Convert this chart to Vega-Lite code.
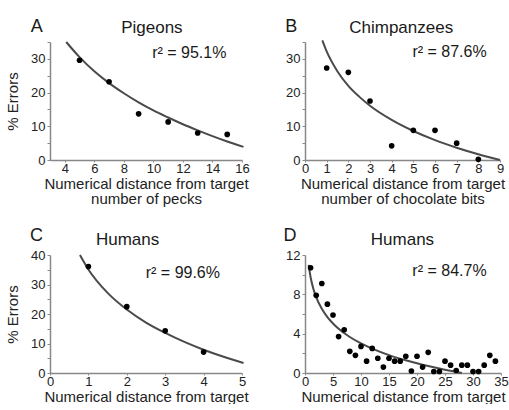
{
  "$schema": "https://vega.github.io/schema/vega-lite/v6.json",
  "padding": {"left": 5, "top": 18, "right": 0, "bottom": 0},
  "background": "white",
  "config": {
    "font": "Liberation Sans",
    "view": {"stroke": null},
    "axis": {
      "grid": false,
      "domainColor": "#888888",
      "domainWidth": 1.5,
      "tickColor": "#888888",
      "tickSize": 3,
      "tickWidth": 1,
      "labelFont": "Liberation Sans",
      "labelFontSize": 13,
      "labelColor": "#222222",
      "labelPadding": 2,
      "titleFont": "Liberation Sans",
      "titleFontSize": 15,
      "titleFontWeight": "normal",
      "titleColor": "#222222",
      "titleLineHeight": 15
    },
    "axisX": {"titlePadding": 1, "labelFlush": false, "tickSize": 2, "labelPadding": 0},
    "axisY": {"titlePadding": 10}
  },
  "datasets": {
    "points": [
      {"panel": "A", "x": 5, "y": 29.6}, {"panel": "A", "x": 7, "y": 23.2}, {"panel": "A", "x": 9, "y": 13.7},
      {"panel": "A", "x": 11, "y": 11.3}, {"panel": "A", "x": 13, "y": 8.0}, {"panel": "A", "x": 15, "y": 7.6},
      {"panel": "B", "x": 1, "y": 27.3}, {"panel": "B", "x": 2, "y": 26.0}, {"panel": "B", "x": 3, "y": 17.5},
      {"panel": "B", "x": 4, "y": 4.2}, {"panel": "B", "x": 5, "y": 8.8}, {"panel": "B", "x": 6, "y": 8.8},
      {"panel": "B", "x": 7, "y": 5.0}, {"panel": "B", "x": 8, "y": 0.2},
      {"panel": "C", "x": 1, "y": 36.1}, {"panel": "C", "x": 2, "y": 22.5}, {"panel": "C", "x": 3, "y": 14.3}, {"panel": "C", "x": 4, "y": 7.1},
      {"panel": "D", "x": 1, "y": 10.7}, {"panel": "D", "x": 2, "y": 7.9}, {"panel": "D", "x": 3, "y": 9.1},
      {"panel": "D", "x": 4, "y": 7.0}, {"panel": "D", "x": 5, "y": 5.9}, {"panel": "D", "x": 6, "y": 3.7},
      {"panel": "D", "x": 7, "y": 4.4}, {"panel": "D", "x": 8, "y": 2.2}, {"panel": "D", "x": 9, "y": 1.8},
      {"panel": "D", "x": 10, "y": 2.7}, {"panel": "D", "x": 11, "y": 1.2}, {"panel": "D", "x": 12, "y": 2.5},
      {"panel": "D", "x": 13, "y": 1.5}, {"panel": "D", "x": 14, "y": 0.6}, {"panel": "D", "x": 15, "y": 1.5},
      {"panel": "D", "x": 16, "y": 1.2}, {"panel": "D", "x": 17, "y": 1.2}, {"panel": "D", "x": 18, "y": 1.7},
      {"panel": "D", "x": 19, "y": 0.2}, {"panel": "D", "x": 20, "y": 1.7}, {"panel": "D", "x": 21, "y": 0.6},
      {"panel": "D", "x": 22, "y": 2.1}, {"panel": "D", "x": 23, "y": 0.15}, {"panel": "D", "x": 24, "y": 0.15},
      {"panel": "D", "x": 25, "y": 1.2}, {"panel": "D", "x": 26, "y": 0.8}, {"panel": "D", "x": 27, "y": 0.25},
      {"panel": "D", "x": 28, "y": 0.8}, {"panel": "D", "x": 29, "y": 0.8}, {"panel": "D", "x": 30, "y": 0.15},
      {"panel": "D", "x": 31, "y": 0.15}, {"panel": "D", "x": 32, "y": 0.8}, {"panel": "D", "x": 33, "y": 1.8},
      {"panel": "D", "x": 34, "y": 1.2}
    ],
    "fits": [
      {"panel": "A", "x": 4.1, "y": 35.0}, {"panel": "A", "x": 5, "y": 30.5}, {"panel": "A", "x": 6, "y": 26.3},
      {"panel": "A", "x": 7, "y": 22.8}, {"panel": "A", "x": 8, "y": 19.8}, {"panel": "A", "x": 9, "y": 17.1},
      {"panel": "A", "x": 10, "y": 14.7}, {"panel": "A", "x": 11, "y": 12.6}, {"panel": "A", "x": 12, "y": 10.6},
      {"panel": "A", "x": 13, "y": 8.8}, {"panel": "A", "x": 14, "y": 7.1}, {"panel": "A", "x": 15, "y": 5.5},
      {"panel": "A", "x": 16.1, "y": 3.9},
      {"panel": "B", "x": 0.8, "y": 35.5}, {"panel": "B", "x": 1, "y": 32.2}, {"panel": "B", "x": 1.5, "y": 26.25},
      {"panel": "B", "x": 2, "y": 22.0}, {"panel": "B", "x": 2.5, "y": 18.8}, {"panel": "B", "x": 3, "y": 16.1},
      {"panel": "B", "x": 4, "y": 11.9}, {"panel": "B", "x": 5, "y": 8.6}, {"panel": "B", "x": 6, "y": 5.9},
      {"panel": "B", "x": 7, "y": 3.65}, {"panel": "B", "x": 8, "y": 1.7}, {"panel": "B", "x": 9, "y": 0.0},
      {"panel": "C", "x": 0.78, "y": 40.0}, {"panel": "C", "x": 1, "y": 35.1}, {"panel": "C", "x": 1.5, "y": 27.15},
      {"panel": "C", "x": 2, "y": 21.5}, {"panel": "C", "x": 2.5, "y": 17.1}, {"panel": "C", "x": 3, "y": 13.6},
      {"panel": "C", "x": 3.5, "y": 10.55}, {"panel": "C", "x": 4, "y": 7.9}, {"panel": "C", "x": 4.5, "y": 5.6},
      {"panel": "C", "x": 5.04, "y": 3.4},
      {"panel": "D", "x": 0.65, "y": 11.0}, {"panel": "D", "x": 1, "y": 9.74}, {"panel": "D", "x": 1.5, "y": 8.55},
      {"panel": "D", "x": 2, "y": 7.72}, {"panel": "D", "x": 3, "y": 6.53}, {"panel": "D", "x": 4, "y": 5.69},
      {"panel": "D", "x": 5, "y": 5.04}, {"panel": "D", "x": 6, "y": 4.50}, {"panel": "D", "x": 8, "y": 3.66},
      {"panel": "D", "x": 10, "y": 3.01}, {"panel": "D", "x": 12, "y": 2.48}, {"panel": "D", "x": 15, "y": 1.82},
      {"panel": "D", "x": 18, "y": 1.29}, {"panel": "D", "x": 21, "y": 0.84}, {"panel": "D", "x": 24, "y": 0.45},
      {"panel": "D", "x": 28, "y": 0.0}
    ],
    "labels": [
      {"panel": "A", "kind": "letter", "x": 2.1, "y": 39.4, "label": "A"},
      {"panel": "A", "kind": "title", "x": 9.9, "y": 39.3, "label": "Pigeons"},
      {"panel": "A", "kind": "stat", "x": 12.43, "y": 31.8, "label": "r² = 95.1%"},
      {"panel": "B", "kind": "letter", "x": -0.63, "y": 39.4, "label": "B"},
      {"panel": "B", "kind": "title", "x": 4.44, "y": 39.2, "label": "Chimpanzees"},
      {"panel": "B", "kind": "stat", "x": 6.67, "y": 32.1, "label": "r² = 87.6%"},
      {"panel": "C", "kind": "letter", "x": -0.35, "y": 46.6, "label": "C"},
      {"panel": "C", "kind": "title", "x": 2.02, "y": 45.0, "label": "Humans"},
      {"panel": "C", "kind": "stat", "x": 3.46, "y": 33.8, "label": "r² = 99.6%"},
      {"panel": "D", "kind": "letter", "x": -2.7, "y": 13.9, "label": "D"},
      {"panel": "D", "kind": "title", "x": 17.4, "y": 13.5, "label": "Humans"},
      {"panel": "D", "kind": "stat", "x": 25.8, "y": 10.4, "label": "r² = 84.7%"}
    ]
  },
  "columns": 2,
  "spacing": {"row": 95, "column": 63},
  "bounds": "flush",
  "concat": [
    {
      "width": 192, "height": 118,
      "encoding": {
        "x": {"field": "x", "type": "quantitative", "scale": {"domain": [3, 16], "nice": false, "zero": false},
          "axis": {"values": [4, 6, 8, 10, 12, 14, 16], "title": ["Numerical distance from target", "number of pecks"]}},
        "y": {"field": "y", "type": "quantitative", "scale": {"domain": [0, 35], "nice": false},
          "axis": {"values": [0, 5, 10, 15, 20, 25, 30, 35], "labelExpr": "datum.value % 10 === 0 ? datum.label : ''", "title": "% Errors"}}
      },
      "layer": [
        {"data": {"name": "fits"}, "transform": [{"filter": "datum.panel === 'A'"}], "mark": {"type": "line", "color": "#4a4a4a", "strokeWidth": 2, "interpolate": "monotone"}},
        {"data": {"name": "points"}, "transform": [{"filter": "datum.panel === 'A'"}], "mark": {"type": "circle", "color": "#000000", "opacity": 1, "size": 32}},
        {"data": {"name": "labels"}, "transform": [{"filter": "datum.panel === 'A'"}], "mark": {"type": "text", "align": "center", "baseline": "middle", "color": "#1a1a1a"},
          "encoding": {"text": {"field": "label"}, "size": {"field": "kind", "type": "ordinal", "scale": {"domain": ["letter", "title", "stat"], "range": [18, 16, 14]}, "legend": null}}}
      ]
    },
    {
      "width": 195, "height": 118,
      "encoding": {
        "x": {"field": "x", "type": "quantitative", "scale": {"domain": [0, 9], "nice": false},
          "axis": {"values": [0, 1, 2, 3, 4, 5, 6, 7, 8, 9], "title": ["Numerical distance from target", "number of chocolate bits"]}},
        "y": {"field": "y", "type": "quantitative", "scale": {"domain": [0, 35], "nice": false},
          "axis": {"values": [0, 5, 10, 15, 20, 25, 30, 35], "labelExpr": "datum.value % 10 === 0 ? datum.label : ''", "title": null}}
      },
      "layer": [
        {"data": {"name": "fits"}, "transform": [{"filter": "datum.panel === 'B'"}], "mark": {"type": "line", "color": "#4a4a4a", "strokeWidth": 2, "interpolate": "monotone"}},
        {"data": {"name": "points"}, "transform": [{"filter": "datum.panel === 'B'"}], "mark": {"type": "circle", "color": "#000000", "opacity": 1, "size": 32}},
        {"data": {"name": "labels"}, "transform": [{"filter": "datum.panel === 'B'"}], "mark": {"type": "text", "align": "center", "baseline": "middle", "color": "#1a1a1a"},
          "encoding": {"text": {"field": "label"}, "size": {"field": "kind", "type": "ordinal", "scale": {"domain": ["letter", "title", "stat"], "range": [18, 16, 14]}, "legend": null}}}
      ]
    },
    {
      "width": 192, "height": 118,
      "encoding": {
        "x": {"field": "x", "type": "quantitative", "scale": {"domain": [0, 5], "nice": false},
          "axis": {"values": [0, 1, 2, 3, 4, 5], "title": "Numerical distance from target"}},
        "y": {"field": "y", "type": "quantitative", "scale": {"domain": [0, 40], "nice": false},
          "axis": {"values": [0, 5, 10, 15, 20, 25, 30, 35, 40], "labelExpr": "datum.value % 10 === 0 ? datum.label : ''", "title": "% Errors"}}
      },
      "layer": [
        {"data": {"name": "fits"}, "transform": [{"filter": "datum.panel === 'C'"}], "mark": {"type": "line", "color": "#4a4a4a", "strokeWidth": 2, "interpolate": "monotone"}},
        {"data": {"name": "points"}, "transform": [{"filter": "datum.panel === 'C'"}], "mark": {"type": "circle", "color": "#000000", "opacity": 1, "size": 32}},
        {"data": {"name": "labels"}, "transform": [{"filter": "datum.panel === 'C'"}], "mark": {"type": "text", "align": "center", "baseline": "middle", "color": "#1a1a1a"},
          "encoding": {"text": {"field": "label"}, "size": {"field": "kind", "type": "ordinal", "scale": {"domain": ["letter", "title", "stat"], "range": [18, 16, 14]}, "legend": null}}}
      ]
    },
    {
      "width": 196, "height": 118,
      "encoding": {
        "x": {"field": "x", "type": "quantitative", "scale": {"domain": [0, 35], "nice": false},
          "axis": {"values": [0, 5, 10, 15, 20, 25, 30, 35], "title": "Numerical distance from target"}},
        "y": {"field": "y", "type": "quantitative", "scale": {"domain": [0, 12], "nice": false},
          "axis": {"values": [0, 2, 4, 6, 8, 10, 12], "labelExpr": "datum.value % 4 === 0 ? datum.label : ''", "title": null}}
      },
      "layer": [
        {"data": {"name": "fits"}, "transform": [{"filter": "datum.panel === 'D'"}], "mark": {"type": "line", "color": "#4a4a4a", "strokeWidth": 2, "interpolate": "monotone"}},
        {"data": {"name": "points"}, "transform": [{"filter": "datum.panel === 'D'"}], "mark": {"type": "circle", "color": "#000000", "opacity": 1, "size": 32}},
        {"data": {"name": "labels"}, "transform": [{"filter": "datum.panel === 'D'"}], "mark": {"type": "text", "align": "center", "baseline": "middle", "color": "#1a1a1a"},
          "encoding": {"text": {"field": "label"}, "size": {"field": "kind", "type": "ordinal", "scale": {"domain": ["letter", "title", "stat"], "range": [18, 16, 14]}, "legend": null}}}
      ]
    }
  ]
}
